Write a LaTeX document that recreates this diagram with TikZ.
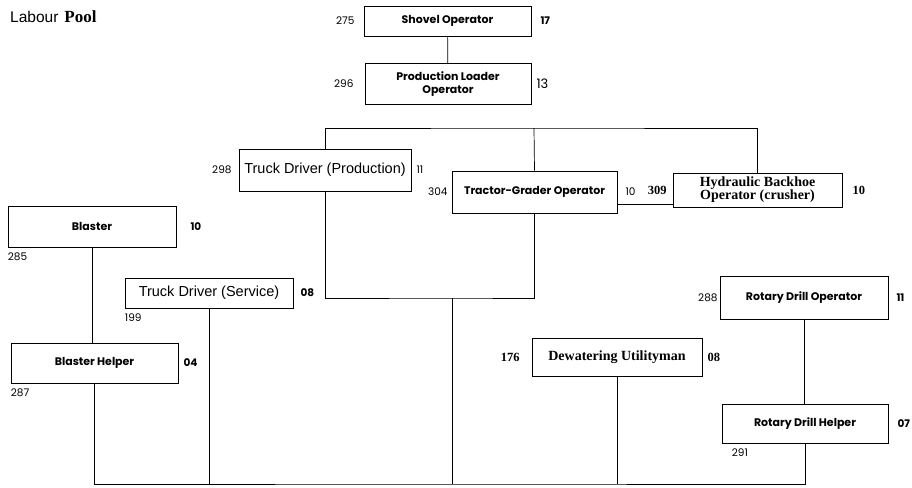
\documentclass[tikz,border=0pt]{standalone}
\usepackage{fontspec}
\setmainfont{Liberation Serif}
\setsansfont{Liberation Sans}
\newfontfamily\geo{Poppins}
\usepackage{tikz}
\usetikzlibrary{calc,positioning}
\tikzset{
  job/.style={rectangle,draw=black,line width=0.6pt,inner sep=1pt,align=center,font=\geo\bfseries\fontsize{11}{12.5}\selectfont},
  jobsf/.style={job,font=\sffamily\fontsize{14.5}{16}\selectfont},
  jobrm/.style={job,font=\rmfamily\bfseries\fontsize{14}{13}\selectfont},
  num/.style={inner sep=0pt,font=\geo\fontsize{10.5}{12}\selectfont},
  numbf/.style={num,font=\geo\bfseries\fontsize{10.5}{12}\selectfont},
  numrm/.style={num,font=\rmfamily\bfseries\fontsize{12.5}{13}\selectfont},
  link/.style={line width=0.7pt,black},
}
\begin{document}
\begin{tikzpicture}[x=1pt,y=-1pt]
  \useasboundingbox (0,0) rectangle (912,487);
  \node[anchor=west,inner sep=0pt] (title) at (10,17){{\sffamily\fontsize{15.5}{16}\selectfont Labour}\hspace{6pt}{\rmfamily\bfseries\fontsize{17}{17}\selectfont Pool}};
  % job boxes
  \node[job,minimum width=167,minimum height=30] (shovel) at (447.5,21){Shovel Operator};
  \node[job,minimum width=166,minimum height=41] (loader) at (448,84){Production Loader\\Operator};
  \node[jobsf,minimum width=172,minimum height=42] (tdprod) at (325,170){Truck Driver (Production)};
  \node[job,minimum width=165,minimum height=42] (tractor) at (534.5,192){Tractor-Grader\ Operator};
  \node[jobrm,minimum width=169,minimum height=34] (backhoe) at (757.5,190){Hydraulic Backhoe\\Operator (crusher)};
  \node[job,minimum width=168,minimum height=41] (blaster) at (92,226.5){Blaster};
  \node[jobsf,minimum width=168,minimum height=30] (tdserv) at (209,293){Truck Driver (Service)};
  \node[job,minimum width=167,minimum height=40] (bhelper) at (94.5,363){Blaster\ Helper};
  \node[jobrm,minimum width=170,minimum height=38] (dewater) at (617,357){Dewatering Utilityman};
  \node[job,minimum width=168,minimum height=43] (rdop) at (804,297.5){Rotary\ Drill\ Operator};
  \node[job,minimum width=166,minimum height=39] (rdhelp) at (805,423.5){Rotary\ Drill\ Helper};
  % codes and counts
  \node[num,left=9pt of shovel] (c275){275};   \node[numbf,right=9pt of shovel] (n17){17};
  \node[num,left=11pt of loader] (c296){296};  \node[num,right=5pt of loader,font=\geo\fontsize{13}{14}\selectfont] (n13){13};
  \node[num,left=7pt of tdprod] (c298){298};   \node[num,right=5pt of tdprod] (n11a){11};
  \node[num,left=4pt of tractor] (c304){304};  \node[num,right=8pt of tractor] (n10a){10};
  \node[numrm,left=6pt of backhoe] (c309){309}; \node[numrm,right=10pt of backhoe] (n10b){10};
  \node[numbf,right=14pt of blaster] (n10c){10};
  \node[num,anchor=north west] (c285) at ([yshift=-5pt]blaster.south west){285};
  \node[numbf,right=7pt of tdserv] (n08a){08};
  \node[num,anchor=north west] (c199) at ([yshift=-5pt]tdserv.south west){199};
  \node[numbf,right=5pt of bhelper] (n04){04};
  \node[num,anchor=north west] (c287) at ([yshift=-5pt]bhelper.south west){287};
  \node[numrm,left=12pt of dewater] (c176){176}; \node[numrm,right=5pt of dewater] (n08b){08};
  \node[num,left=2pt of rdop] (c288){288};     \node[numbf,right=8pt of rdop] (n11b){11};
  \node[numbf,right=9pt of rdhelp] (n07){07};
  \node[num,anchor=north west] (c291) at ([xshift=10pt,yshift=-5pt]rdhelp.south west){291};
  % connectors
  \coordinate (tbus) at (534,128);
  \coordinate (mid) at (452,298);
  \coordinate (bus) at (452,484);
  \draw[link] (shovel) -- (loader);
  \draw[link] (tdprod.north) |- (tbus) -| (backhoe.north);
  \draw[link] (tbus) -- (tractor.north);
  \draw[link] ([yshift=-12pt]tractor.east) -- ([yshift=-12pt]tractor.east -| backhoe.west);
  \draw[link] (tdprod.south) |- (mid) -| (tractor.south);
  \draw[link] (blaster.south) -- (blaster.south |- bhelper.north);
  \draw[link] (rdop.south) -- (rdop.south |- rdhelp.north);
  \draw[link] (bhelper.south) |- (bus) -| (rdhelp.south);
  \draw[link] (tdserv.south) -- (tdserv.south |- bus);
  \draw[link] (mid) -- (bus);
  \draw[link] (dewater.south) -- (dewater.south |- bus);
\end{tikzpicture}
\end{document}
